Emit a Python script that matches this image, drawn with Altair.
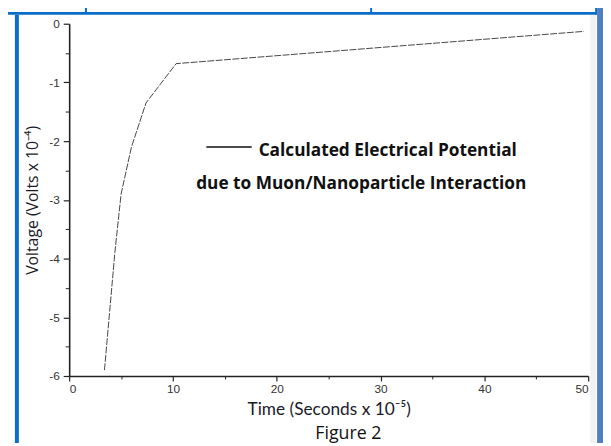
import altair as alt
import pandas as pd

# Data
time_vals = [3.4, 3.9, 4.4, 5.0, 6.0, 7.4, 10.3, 49.6]
voltage_vals = [-5.9, -4.9, -3.9, -2.9, -2.1, -1.35, -0.68, -0.13]

x_major = [0, 10, 20, 30, 40, 50]
x_minor = [5, 15, 25, 35, 45]
y_major = [0, -1, -2, -3, -4, -5, -6]
y_minor = [-0.5, -1.5, -2.5, -3.5, -4.5, -5.5]

legend_line1 = "Calculated Electrical Potential"
legend_line2 = "due to Muon/Nanoparticle Interaction"
x_title = "Time (Seconds x 10⁻⁵)"
y_title = "Voltage (Volts x 10⁻⁴)"
caption = "Figure 2"

df = pd.DataFrame({"t": time_vals, "v": voltage_vals})

W, H = 526, 357
xs = alt.Scale(domain=[0, 50], nice=False, zero=False)
ys = alt.Scale(domain=[-6, 0], nice=False, zero=False)

lab_expr = "datum.value < 0 ? '-' + abs(datum.value) : '' + datum.value"

x_axis = alt.Axis(values=x_major, orient="bottom", title=x_title, tickSize=5,
                  labelPadding=3, labelFont="Liberation Sans", labelFontSize=12,
                  labelColor="#333", titleFont="Lato", titleFontSize=17.5,
                  titleFontWeight="normal", titleColor="#1a1a2a", titlePadding=6,
                  grid=False, domainColor="#222", domainWidth=1.6, tickColor="#222",
                  tickWidth=1.2)
y_axis = alt.Axis(values=y_major, orient="left", title=y_title, tickSize=6,
                  labelExpr=lab_expr, labelPadding=4, labelFont="Liberation Sans",
                  labelFontSize=12, labelColor="#333", titleFont="Open Sans",
                  titleFontSize=16, titleFontWeight="normal", titleColor="#1a1a2a",
                  titlePadding=8, grid=False, domainColor="#222", domainWidth=1.6,
                  tickColor="#222", tickWidth=1.2)

line = alt.Chart(df).mark_line(color="#444", strokeWidth=1.0, strokeDash=[7, 1.5]).encode(
    x=alt.X("t:Q", scale=xs, axis=x_axis),
    y=alt.Y("v:Q", scale=ys, axis=y_axis),
)

minor = alt.Chart(df).mark_line(opacity=0).encode(
    x=alt.X("t:Q", scale=xs, axis=alt.Axis(values=x_minor, orient="bottom", labels=False,
                                            title=None, domain=False, grid=False,
                                            tickSize=3, tickColor="#222")),
    y=alt.Y("v:Q", scale=ys, axis=alt.Axis(values=y_minor, orient="left", labels=False,
                                            title=None, domain=False, grid=False,
                                            tickSize=4, tickColor="#222")),
)

one = pd.DataFrame({"a": [0]})

legend_rule = alt.Chart(one).mark_rule(color="#111", strokeWidth=1.5).encode(
    x=alt.value(139), x2=alt.value(185), y=alt.value(125)
)
legend_t1 = alt.Chart(one).mark_text(align="left", baseline="middle", font="Open Sans",
                                     fontSize=17.5, fontWeight="bold", color="#111").encode(
    x=alt.value(192), y=alt.value(129), text=alt.value(legend_line1)
)
legend_t2 = alt.Chart(one).mark_text(align="center", baseline="middle", font="Open Sans",
                                     fontSize=17.5, fontWeight="bold", color="#111").encode(
    x=alt.value(296), y=alt.value(162), text=alt.value(legend_line2)
)
fig_t = alt.Chart(one).mark_text(align="center", baseline="middle", font="Open Sans",
                                 fontSize=18, color="#111").encode(
    x=alt.value(283), y=alt.value(416), text=alt.value(caption)
)

# decorative blue frame of the scanned page
blue = "#0a6ec8"
top_line = alt.Chart(one).mark_rule(color=blue, strokeWidth=3).encode(
    x=alt.value(-62), x2=alt.value(534), y=alt.value(-10.5)
)
div1 = alt.Chart(one).mark_rule(color=blue, strokeWidth=2).encode(
    x=alt.value(17), y=alt.value(-21), y2=alt.value(-11)
)
div2 = alt.Chart(one).mark_rule(color=blue, strokeWidth=2).encode(
    x=alt.value(306), y=alt.value(-21), y2=alt.value(-11)
)
div3 = alt.Chart(one).mark_rule(color=blue, strokeWidth=2).encode(
    x=alt.value(534), y=alt.value(-21), y2=alt.value(-9)
)
left_bar = alt.Chart(one).mark_rule(color=blue, strokeWidth=4).encode(
    x=alt.value(-53), y=alt.value(-9), y2=alt.value(425)
)
right_shade = alt.Chart(one).mark_rule(color="#e4e8ee", strokeWidth=6, opacity=0.6).encode(
    x=alt.value(531), y=alt.value(-9), y2=alt.value(425)
)
right_bar = alt.Chart(one).mark_rule(color="#4f7fc2", strokeWidth=6).encode(
    x=alt.value(538), y=alt.value(-21), y2=alt.value(425)
)

chart = alt.layer(
    right_shade, line, minor, legend_rule, legend_t1, legend_t2, fig_t,
    top_line, div1, div2, div3, left_bar, right_bar
).resolve_axis(x="independent", y="independent").properties(
    width=W, height=H,
    autosize=alt.AutoSizeParams(type="none"),
    padding={"left": 62, "top": 13, "right": 15, "bottom": 68},
    background="white",
).configure_view(stroke=None)

chart.save("out.html", embed_options={"renderer": "svg", "actions": False})
